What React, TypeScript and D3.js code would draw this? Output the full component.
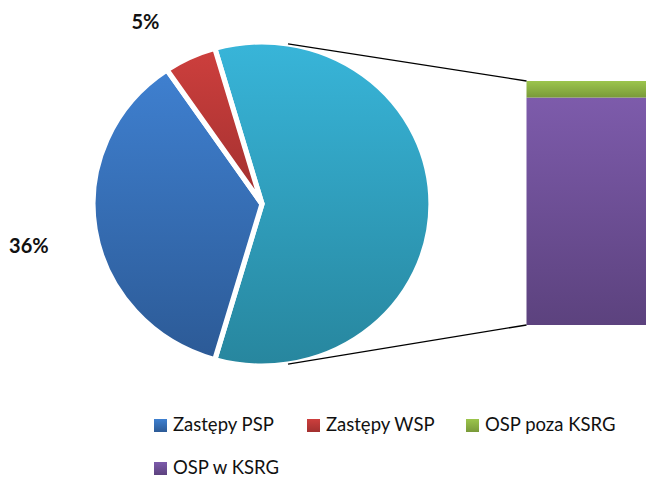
import { useEffect, useRef } from "react";
import * as d3 from "d3";

// pie slices (percent of all units)
const pieCategories = ["Zastępy PSP", "Zastępy WSP"];
const pieValues = [36, 5];
const pieLabels = ["36%", "5%"];

// breakdown of the "other" slice shown as the stacked bar (bottom to top)
const barCategories = ["OSP w KSRG", "OSP poza KSRG"];
const barValues = [55, 4];

const legendCategories = ["Zastępy PSP", "Zastępy WSP", "OSP poza KSRG", "OSP w KSRG"];

const colors: Record<string, [string, string]> = {
  "Zastępy PSP": ["#3f80d0", "#2c5a96"],
  "Zastępy WSP": ["#cd3f3d", "#a2302f"],
  other: ["#38b5d9", "#27869e"],
  "OSP poza KSRG": ["#9cc54c", "#799a39"],
  "OSP w KSRG": ["#7d5bab", "#5c427e"],
};

const App = () => {
  const svgRef = useRef<SVGSVGElement>(null);

  useEffect(() => {
    const svg = d3.select(svgRef.current);
    svg.selectAll("*").remove();

    const width = 646;
    const height = 477;
    svg.attr("width", width).attr("height", height);

    const cx = 262;
    const cy = 204;
    const rx = 169;
    const ry = 162;

    const defs = svg.append("defs");
    const gradId = (k: string) => "g-" + k.replace(/[^a-zA-Z]/g, "");
    Object.entries(colors).forEach(([k, [c1, c2]]) => {
      const g = defs
        .append("linearGradient")
        .attr("id", gradId(k))
        .attr("x1", "0%")
        .attr("x2", "0%")
        .attr("y1", "0%")
        .attr("y2", "100%");
      g.append("stop").attr("offset", "0%").attr("stop-color", c1);
      g.append("stop").attr("offset", "100%").attr("stop-color", c2);
    });

    const otherTotal = d3.sum(barValues);
    const total = otherTotal + d3.sum(pieValues);
    const otherSpan = (otherTotal / total) * 2 * Math.PI;

    const slices = [{ key: "other", value: otherTotal, label: "" }].concat(
      pieCategories.map((c, i) => ({ key: c, value: pieValues[i], label: pieLabels[i] }))
    );

    const pie = d3
      .pie<{ key: string; value: number; label: string }>()
      .sort(null)
      .value((d) => d.value)
      .startAngle(Math.PI / 2 - otherSpan / 2)
      .endAngle(Math.PI / 2 - otherSpan / 2 + 2 * Math.PI);

    const arcs = pie(slices);
    const arc = d3.arc<d3.PieArcDatum<{ key: string; value: number; label: string }>>()
      .innerRadius(0)
      .outerRadius(ry);

    const pieG = svg
      .append("g")
      .attr("transform", `translate(${cx},${cy}) scale(${rx / ry},1)`);

    pieG
      .selectAll("path")
      .data(arcs)
      .join("path")
      .attr("d", arc)
      .attr("fill", (d) => `url(#${gradId(d.data.key)})`)
      .attr("stroke", "#fff")
      .attr("stroke-width", 5)
      .attr("stroke-linejoin", "miter");

    // percentage labels outside the pie
    const labelK = 1.29;
    svg
      .append("g")
      .selectAll("text")
      .data(arcs.filter((d) => d.data.label))
      .join("text")
      .each(function (d) {
        const a = (d.startAngle + d.endAngle) / 2 - 0.05;
        const s = Math.sin(a);
        const c = Math.cos(a);
        d3.select(this)
          .attr("x", cx + rx * labelK * s)
          .attr("y", cy - ry * labelK * c)
          .attr("text-anchor", s < 0 ? "end" : "start")
          .attr("dy", `${0.35 + 0.15 * c}em`);
      })
      .style("font-family", "Lato, sans-serif")
      .style("font-weight", "bold")
      .style("font-size", "20px")
      .attr("fill", "#111")
      .text((d) => d.data.label);

    // stacked bar
    const barX = 526.5;
    const barTop = 81;
    const barBottom = 325;
    const yScale = d3.scaleLinear().domain([0, otherTotal]).range([barBottom, barTop]);
    const stack = d3.cumsum(barValues);
    svg
      .append("g")
      .selectAll("rect")
      .data(barCategories.map((c, i) => ({ key: c, y0: stack[i] - barValues[i], y1: stack[i] })))
      .join("rect")
      .attr("x", barX)
      .attr("width", 160)
      .attr("y", (d) => yScale(d.y1))
      .attr("height", (d) => yScale(d.y0) - yScale(d.y1))
      .attr("fill", (d) => `url(#${gradId(d.key)})`);

    // connector lines from pie to bar
    const connA = Math.asin(26 / rx);
    const lines = [
      { a: connA, y: yScale(otherTotal) },
      { a: Math.PI - connA, y: yScale(0) },
    ];
    svg
      .append("g")
      .selectAll("line")
      .data(lines)
      .join("line")
      .attr("x1", (d) => cx + rx * Math.sin(d.a))
      .attr("y1", (d) => cy - ry * Math.cos(d.a))
      .attr("x2", barX)
      .attr("y2", (d) => d.y)
      .attr("stroke", "#000")
      .attr("stroke-width", 1.3);

    // legend
    const legendPos = [
      [154, 425],
      [307, 425],
      [466, 425],
      [154, 468],
    ];
    const legend = svg
      .append("g")
      .selectAll("g")
      .data(legendCategories)
      .join("g")
      .attr("transform", (_, i) => `translate(${legendPos[i][0]},${legendPos[i][1]})`);
    legend
      .append("rect")
      .attr("x", 0)
      .attr("y", -6)
      .attr("width", 13)
      .attr("height", 13)
      .attr("fill", (d) => `url(#${gradId(d)})`);
    legend
      .append("text")
      .attr("x", 19)
      .attr("y", 0)
      .attr("dy", "0.35em")
      .style("font-family", "Lato, sans-serif")
      .style("font-size", "18.5px")
      .attr("fill", "#111")
      .text((d) => d);
  }, []);

  return (
    <svg
      ref={svgRef}
      style={{ position: "absolute", left: 0, top: 0, background: "#fff" }}
    />
  );
};

export default App;
